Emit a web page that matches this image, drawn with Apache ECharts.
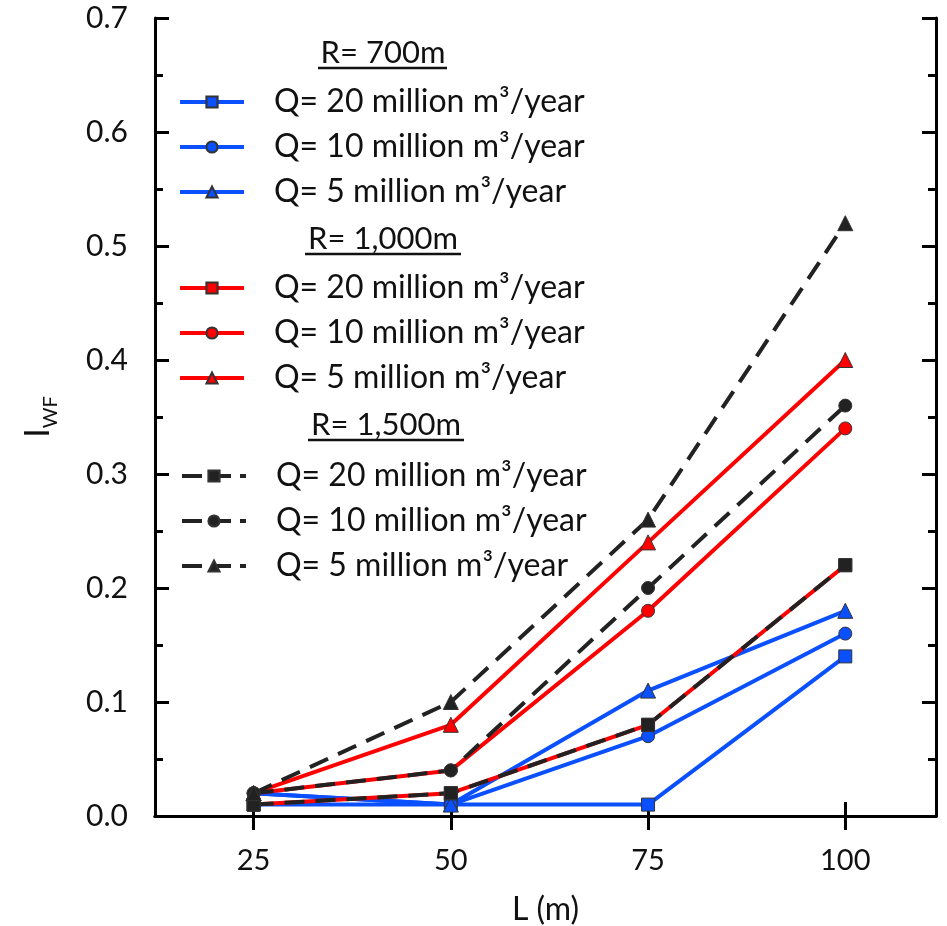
<!DOCTYPE html>
<html>
<head>
<meta charset="utf-8">
<script src="https://cdn.jsdelivr.net/npm/echarts@6/dist/echarts.min.js"></script>
<style>html,body{margin:0;padding:0;background:#fff;overflow:hidden}#c{width:947px;height:926px}</style>
</head>
<body>
<div id="c"></div>
<script>
// ---- data ----
const L = [25, 50, 75, 100];
const xTicks = [25, 50, 75, 100];
const r700_q20 = [0.01, 0.01, 0.01, 0.14];
const r700_q10 = [0.02, 0.01, 0.07, 0.16];
const r700_q5 = [0.02, 0.01, 0.11, 0.18];
const r1000_q20 = [0.01, 0.02, 0.08, 0.22];
const r1000_q10 = [0.02, 0.04, 0.18, 0.34];
const r1000_q5 = [0.02, 0.08, 0.24, 0.40];
const r1500_q20 = [0.01, 0.02, 0.08, 0.22];
const r1500_q10 = [0.02, 0.04, 0.20, 0.36];
const r1500_q5 = [0.02, 0.10, 0.26, 0.52];
const groupTitles = ['R= 700m', 'R= 1,000m', 'R= 1,500m'];
const qLabels = ['Q= 20 million m³/year', 'Q= 10 million m³/year', 'Q= 5 million m³/year'];

const BLUE = '#0a50ff', RED = '#ff0000', BLACK = '#222222';
const FONT = 'Lato, "Open Sans", sans-serif';

const groups = [
  {key: 'b', color: BLUE, dash: 'solid', data: [r700_q20, r700_q10, r700_q5]},
  {key: 'r', color: RED, dash: 'solid', data: [r1000_q20, r1000_q10, r1000_q5]},
  {key: 'k', color: BLACK, dash: [20, 11], data: [r1500_q20, r1500_q10, r1500_q5]}
];
const symbols = ['rect', 'circle', 'triangle'];
const labelMap = {};
const series = [];
groups.forEach(g => {
  g.data.forEach((vals, i) => {
    const name = g.key + i;
    labelMap[name] = qLabels[i];
    series.push({
      name: name,
      type: 'line',
      data: L.map((x, j) => [x, vals[j]]),
      symbol: symbols[i],
      symbolSize: i === 2 ? 15 : 13,
      showSymbol: true,
      lineStyle: {color: g.color, width: 4, type: g.dash},
      itemStyle: {color: g.color, borderColor: '#333', borderWidth: 1, opacity: 1},
      emphasis: {disabled: true},
      z: 2,
      animation: false
    });
  });
});

function legend(keys, top, left, dashed) {
  return {
    data: keys,
    orient: 'vertical',
    left: left,
    top: top,
    padding: 0,
    itemWidth: 64,
    itemHeight: 14,
    itemGap: 13,
    selectedMode: false,
    lineStyle: dashed ? {width: 4, type: [20, 9]} : {width: 4},
    formatter: n => labelMap[n],
    textStyle: {fontFamily: FONT, fontSize: 32, color: '#111', lineHeight: 31, padding: [0, 0, 0, 25]}
  };
}

const chart = echarts.init(document.getElementById('c'), null, {renderer: 'canvas'});
const uline = (x1, x2, y) => ({
  type: 'line', shape: {x1: x1, y1: y, x2: x2, y2: y}, style: {stroke: '#111', lineWidth: 2.5}
});
const head = (txt, x, y) => ({type: 'text', x: x, y: y, style: {text: txt, font: '31px ' + FONT, fill: '#111', align: 'center', verticalAlign: 'middle'}});

chart.setOption({
  animation: false,
  grid: {left: 155, right: 11, top: 18, bottom: 110, outerBoundsMode: 'none', containLabel: false},
  legend: [
    legend(['b0', 'b1', 'b2'], 86, 178, false),
    legend(['r0', 'r1', 'r2'], 272, 178, false),
    legend(['k0', 'k1', 'k2'], 460, 180, true)
  ],
  xAxis: [{
    type: 'value', min: 12.5, max: 111.5,
    name: 'L (m)', nameLocation: 'middle', nameGap: 78,
    nameTextStyle: {fontFamily: FONT, fontSize: 32, color: '#111'},
    axisLine: {show: true, lineStyle: {color: '#000', width: 3}},
    axisTick: {show: true, inside: true, length: 14, lineStyle: {width: 3, color: '#000'}, customValues: xTicks},
    axisLabel: {customValues: xTicks, margin: 30, fontFamily: FONT, fontSize: 29, color: '#111'},
    splitLine: {show: false}
  }, {
    type: 'value', min: 12.5, max: 111.5, position: 'top',
    axisLine: {show: true, lineStyle: {color: '#000', width: 3}},
    axisTick: {show: true, inside: true, length: 14, lineStyle: {width: 3, color: '#000'}, customValues: xTicks},
    axisLabel: {show: false, customValues: xTicks},
    splitLine: {show: false}
  }],
  yAxis: [{
    type: 'value', min: 0, max: 0.7, interval: 0.1,
    name: '{a|I}{b|WF}', nameLocation: 'middle', nameGap: 100, nameRotate: 90,
    nameTextStyle: {
      rich: {
        a: {fontFamily: FONT, fontSize: 34, color: '#111', lineHeight: 36, verticalAlign: 'bottom'},
        b: {fontFamily: FONT, fontSize: 20, color: '#111', lineHeight: 36, verticalAlign: 'bottom', padding: [0, 0, -6, 0]}
      }
    },
    axisLine: {show: true, lineStyle: {color: '#000', width: 3}},
    axisTick: {show: true, inside: true, length: 14, lineStyle: {width: 3, color: '#000'}},
    minorTick: {show: true, splitNumber: 2, length: 8, lineStyle: {width: 3, color: '#000'}},
    axisLabel: {formatter: v => v.toFixed(1), margin: 27, fontFamily: FONT, fontSize: 30, color: '#111'},
    splitLine: {show: false}
  }, {
    type: 'value', min: 0, max: 0.7, interval: 0.1, position: 'right',
    axisLine: {show: true, lineStyle: {color: '#000', width: 3}},
    axisTick: {show: true, inside: true, length: 14, lineStyle: {width: 3, color: '#000'}},
    minorTick: {show: true, splitNumber: 2, length: 8, lineStyle: {width: 3, color: '#000'}},
    axisLabel: {show: false},
    splitLine: {show: false}
  }],
  series: series,
  graphic: [
    head(groupTitles[0], 383, 53),
    uline(318, 447, 68),
    head(groupTitles[1], 383, 239),
    uline(305, 461, 254),
    head(groupTitles[2], 386, 425),
    uline(308, 464, 440)
  ]
});
</script>
</body>
</html>
